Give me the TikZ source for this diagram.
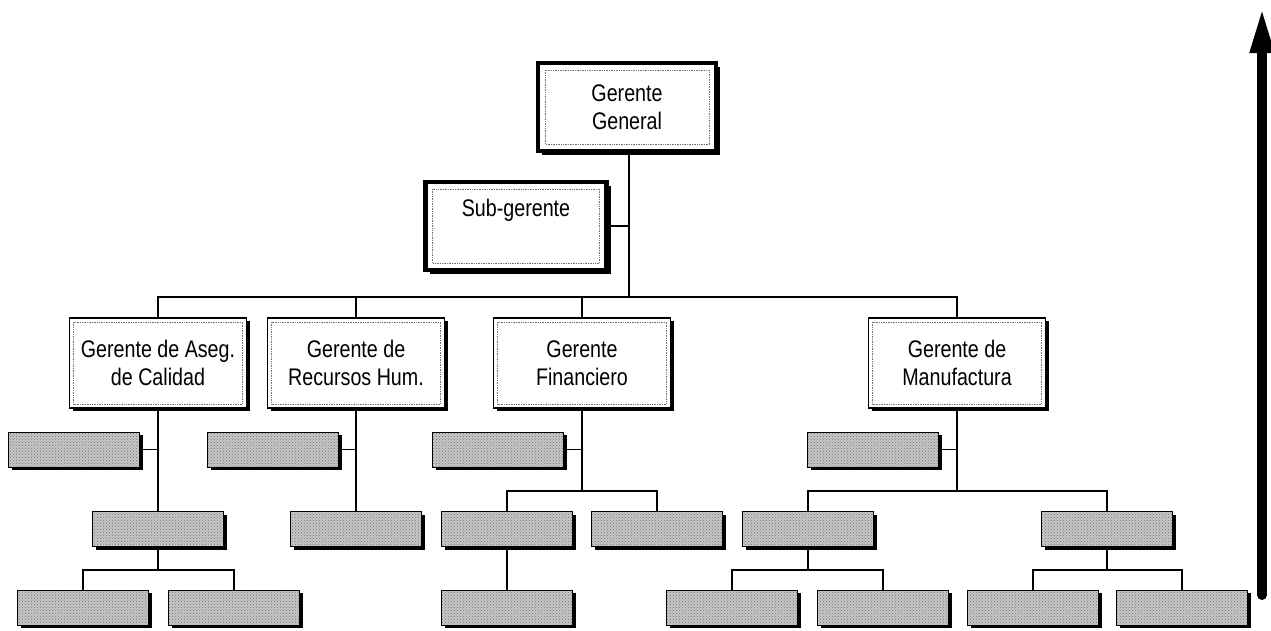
\documentclass[tikz,border=0pt]{standalone}
\usepackage{fontspec}
\setmainfont{Liberation Sans}[FakeStretch=0.82]
\usetikzlibrary{shadows,patterns,arrows.meta}

\tikzset{
  inner frame/.style={
    path picture={
      \draw[black!55, line width=0.7pt, densely dotted]
        ([shift={(#1,-#1)}]path picture bounding box.north west) rectangle
        ([shift={(-#1,#1)}]path picture bounding box.south east);
    }},
  headbox/.style={
    rectangle, draw=black, line width=4.5pt, fill=white,
    drop shadow={shadow xshift=4pt, shadow yshift=-4pt, fill=black, opacity=1},
    inner frame=7pt,
    minimum width=#1, minimum height=88pt,
    align=center, font=\fontsize{24pt}{28pt}\selectfont},
  mgrbox/.style={
    rectangle, draw=black, line width=1.8pt, fill=white,
    drop shadow={shadow xshift=3pt, shadow yshift=-3pt, fill=black, opacity=1},
    inner frame=4pt,
    minimum width=177pt, minimum height=90pt,
    align=center, font=\fontsize{24pt}{28pt}\selectfont},
  unitbox/.style={
    rectangle, draw=black, line width=1pt,
    drop shadow={shadow xshift=3pt, shadow yshift=-3pt, fill=black, opacity=1},
    preaction={fill=black!22},
    pattern=crosshatch dots, pattern color=black!55,
    minimum width=131pt, minimum height=35pt, inner sep=0pt},
  link/.style={draw=black, line width=1.4pt},
}

\begin{document}
\begin{tikzpicture}[x=1pt, y=-1pt]
\useasboundingbox (0,0) rectangle (1271,630);

% top management
\node[headbox=178pt] (gg) at (627,107) {Gerente\\General};
\node[headbox=181pt] (sub) at (516,226) {Sub-gerente\\\strut};

% department managers
\node[mgrbox] (aseg) at (158,363) {Gerente de Aseg.\\de Calidad};
\node[mgrbox] (rec)  at (356,363) {Gerente de\\Recursos Hum.};
\node[mgrbox] (fin)  at (582,363) {Gerente\\Financiero};
\node[mgrbox] (manu) at (957,363) {Gerente de\\Manufactura};

% staff units beside each manager
\node[unitbox] (a1) at (74,449.5) {};
\node[unitbox] (r1) at (273,449.5) {};
\node[unitbox] (f1) at (498,449.5) {};
\node[unitbox] (m1) at (873,449.5) {};

% second level units
\node[unitbox] (a2) at (158,529) {};
\node[unitbox] (r2) at (356,529) {};
\node[unitbox] (f2) at (507,529) {};
\node[unitbox] (f3) at (657,529) {};
\node[unitbox] (m2) at (808,529) {};
\node[unitbox] (m3) at (1107,529) {};

% third level units
\node[unitbox] (a3) at (83,607.5) {};
\node[unitbox] (a4) at (234,607.5) {};
\node[unitbox] (f4) at (507,607.5) {};
\node[unitbox] (m4) at (732,607.5) {};
\node[unitbox] (m5) at (883,607.5) {};
\node[unitbox] (m6) at (1033,607.5) {};
\node[unitbox] (m7) at (1182,607.5) {};

% bus lines
\coordinate (bus) at (629,297);
\coordinate (fbus) at (582,491);
\coordinate (mbus) at (957,491);
\coordinate (abus) at (158,570);
\coordinate (m2bus) at (808,570);
\coordinate (m3bus) at (1107,570);

\draw[link] (gg.south -| bus) -- (bus);
\draw[link] (sub.east) -- (sub.east -| bus);
\draw[link] (aseg.north) |- (bus) -| (manu.north);
\draw[link] (rec.north) -- (rec.north |- bus);
\draw[link] (fin.north) -- (fin.north |- bus);

\draw[link] (a1.east) -- (a1.east -| aseg.south);
\draw[link] (r1.east) -- (r1.east -| rec.south);
\draw[link] (f1.east) -- (f1.east -| fin.south);
\draw[link] (m1.east) -- (m1.east -| manu.south);

\draw[link] (aseg.south) -- (a2.north);
\draw[link] (rec.south) -- (r2.north);
\draw[link] (fin.south) -- (fbus);
\draw[link] (f2.north) |- (fbus) -| (f3.north);
\draw[link] (manu.south) -- (mbus);
\draw[link] (m2.north) |- (mbus) -| (m3.north);

\draw[link] (a2.south) -- (abus);
\draw[link] (a3.north) |- (abus) -| (a4.north);
\draw[link] (f2.south) -- (f4.north);
\draw[link] (m2.south) -- (m2bus);
\draw[link] (m4.north) |- (m2bus) -| (m5.north);
\draw[link] (m3.south) -- (m3bus);
\draw[link] (m6.north) |- (m3bus) -| (m7.north);

% upward arrow at the right
\coordinate (axisbot) at (1262,595);
\coordinate (axistop) at (1262,7);
\draw[line width=10pt, line cap=round, -{Triangle[length=46pt, width=22pt]}]
  (axisbot) -- (axistop);
\end{tikzpicture}
\end{document}
